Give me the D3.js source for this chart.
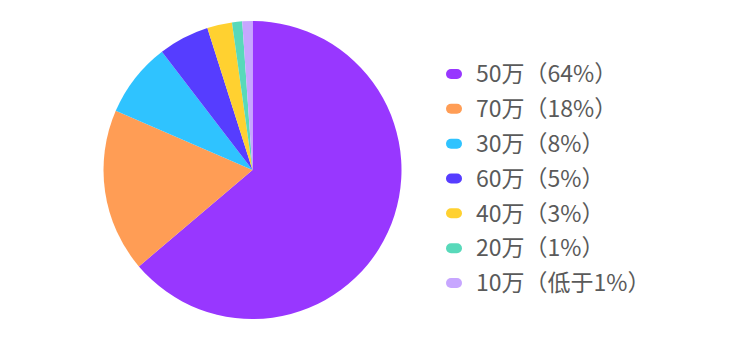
<!DOCTYPE html>
<html><head><meta charset="utf-8">
<script src="https://cdn.jsdelivr.net/npm/d3@7"></script>
<style>html,body{margin:0;padding:0;background:#fff;}</style>
</head><body>
<svg id="c" width="734" height="353"></svg>
<script>
const categories = ["50万", "70万", "30万", "60万", "40万", "20万", "10万"];
const values = [63.8, 17.7, 8.1, 5.5, 2.7, 1.1, 1.1];
const legendLabels = ["50万（64%）", "70万（18%）", "30万（8%）", "60万（5%）", "40万（3%）", "20万（1%）", "10万（低于1%）"];
const colors = ["#9837FF", "#FF9D55", "#2FC3FF", "#563DFF", "#FFD130", "#58D9BA", "#C7A6FF"];

const svg = d3.select("#c");
const cx = 252.5, cy = 170, r = 149;
const data = categories.map((c, i) => ({cat: c, v: values[i], i}));
const pie = d3.pie().value(d => d.v).sort(null);
const arc = d3.arc().innerRadius(0).outerRadius(r);
const color = d3.scaleOrdinal().domain(categories).range(colors);

svg.append("g").attr("transform", `translate(${cx},${cy})`)
  .selectAll("path").data(pie(data)).join("path")
  .attr("d", arc).attr("fill", d => color(d.data.cat));

const y = d3.scalePoint().domain(categories).range([74, 283]);
const lg = svg.append("g");
const rows = lg.selectAll("g").data(data).join("g")
  .attr("transform", d => `translate(446,${y(d.cat)})`);
rows.append("rect").attr("x", 0).attr("y", -5).attr("width", 16).attr("height", 10)
  .attr("rx", 5).attr("fill", d => color(d.cat));
rows.append("text").attr("x", 30).attr("y", 0).attr("dy", "0.36em")
  .attr("font-family", "'Noto Sans CJK SC', 'Noto Sans', sans-serif")
  .attr("font-size", 23).attr("fill", "#5a5a5a")
  .text(d => legendLabels[d.i]);
</script>
</body></html>
